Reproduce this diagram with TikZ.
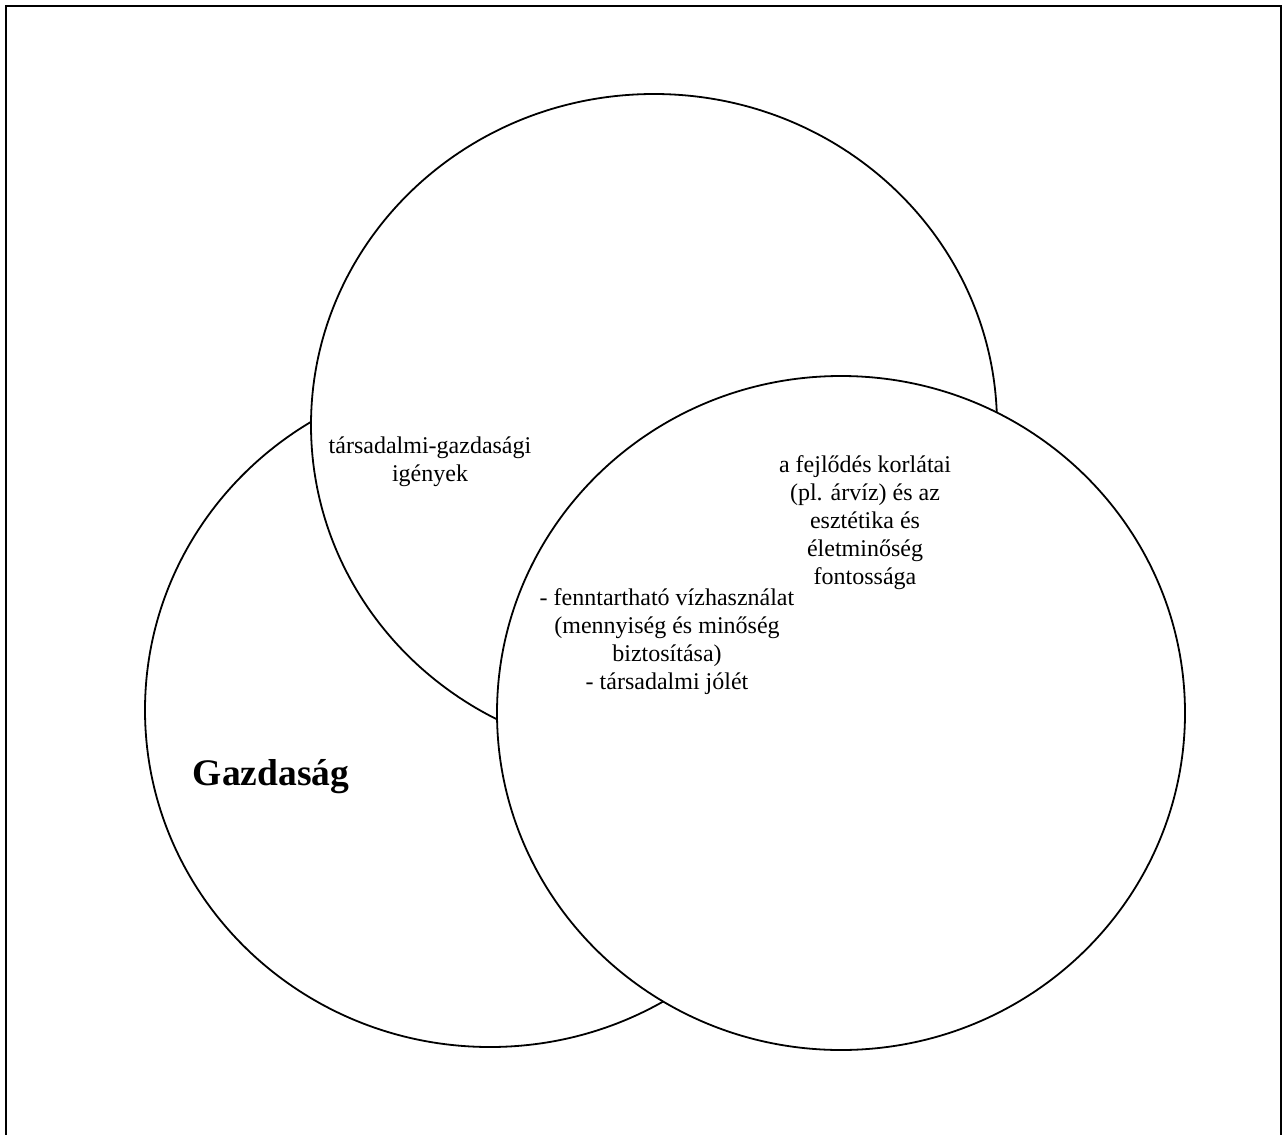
\documentclass[tikz,border=0pt]{standalone}
\usepackage{fontspec}
\setmainfont{Liberation Serif}
\tikzset{
  venn/.style={draw=black, fill=white, line width=1.8pt},
  lbl/.style={align=center, font=\fontsize{24}{28}\selectfont, inner sep=0pt},
}
\begin{document}
\begin{tikzpicture}[x=1pt,y=-1pt]
\useasboundingbox (0,0) rectangle (1283,1135);
% keret
\draw[line width=2.2pt] (6,1150) -- (6,6) -- (1281,6) -- (1281,1150);
% korok: bal, felso, jobb
\draw[venn] (490,710) ellipse [x radius=345pt, y radius=337pt];
\draw[venn] (654,425) ellipse [x radius=343pt, y radius=331pt];
\draw[venn] (841,713) ellipse [x radius=344pt, y radius=337pt];
% feliratok
\node[lbl] (igeny) at (430,462) {társadalmi-gazdasági\\igények};
\node[lbl] (korlat) at (865,523) {a fejlődés korlátai\\(pl. árvíz) és az\\esztétika és\\életminőség\\fontossága};
\node[lbl] (viz) at (667,642) {- fenntartható vízhasználat\\(mennyiség és minőség\\biztosítása)\\- társadalmi jólét};
\node[font=\bfseries\fontsize{37.5}{40}\selectfont, inner sep=0pt, anchor=base] (gazd) at (271,785) {Gazdaság};
\end{tikzpicture}
\end{document}
